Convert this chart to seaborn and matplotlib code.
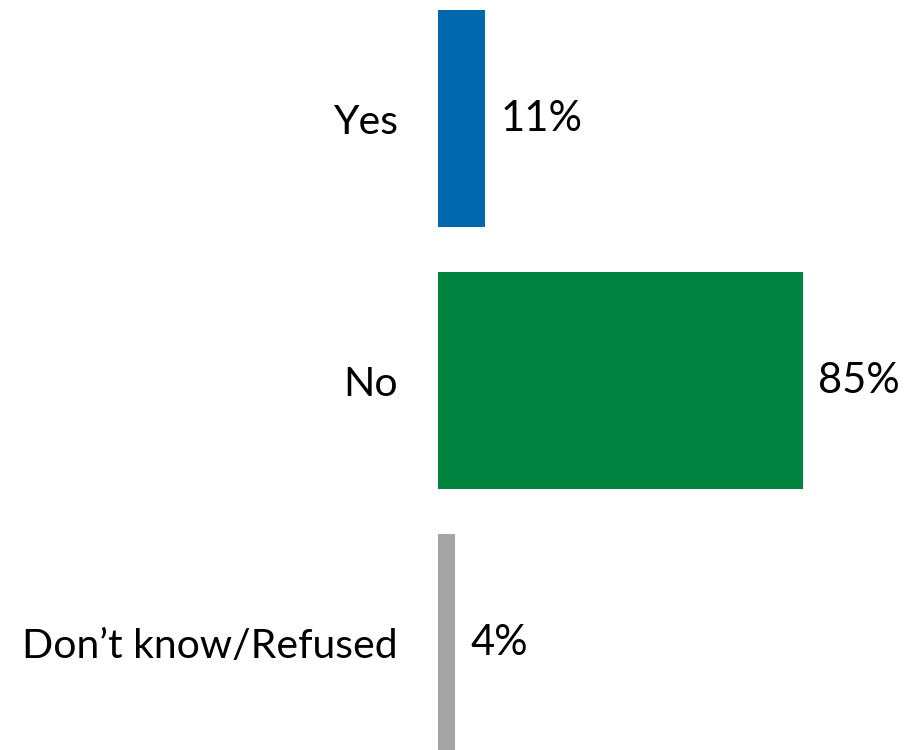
import matplotlib
matplotlib.use("Agg")
import matplotlib.pyplot as plt
import seaborn as sns
import pandas as pd

categories = ["Yes", "No", "Don\u2019t know/Refused"]
values = [11, 85, 4]
colors = ["#0068AD", "#00833E", "#A5A5A5"]

df = pd.DataFrame({"category": categories, "value": values})

sns.set_theme(style="white")
plt.rcParams['font.family'] = ['Lato', 'DejaVu Sans']

fig = plt.figure(figsize=(9.11, 7.5), dpi=100)
ax = fig.add_axes([438 / 911, 0, (911 - 438) / 911, 1])

sns.barplot(data=df, y="category", x="value", hue="category", palette=colors,
            orient="h", width=0.828, legend=False, ax=ax, saturation=1,
            linewidth=0)

ax.set_xlim(0, 473 / 4.294)
ax.set_ylim(2.410, -0.4523)
for s in ax.spines.values():
    s.set_visible(False)
ax.set_xticks([])
ax.set_xlabel("")
ax.set_ylabel("")
ax.tick_params(axis="y", length=0, pad=29, labelsize=29.5)
for lbl in ax.get_yticklabels():
    lbl.set_color("black")

for i, v in enumerate(values):
    ax.annotate(f"{v}%", xy=(v, i), xytext=(11, 0), textcoords="offset points",
                va="center", ha="left", fontsize=30, color="black")

fig.savefig("out.png", dpi=100)
